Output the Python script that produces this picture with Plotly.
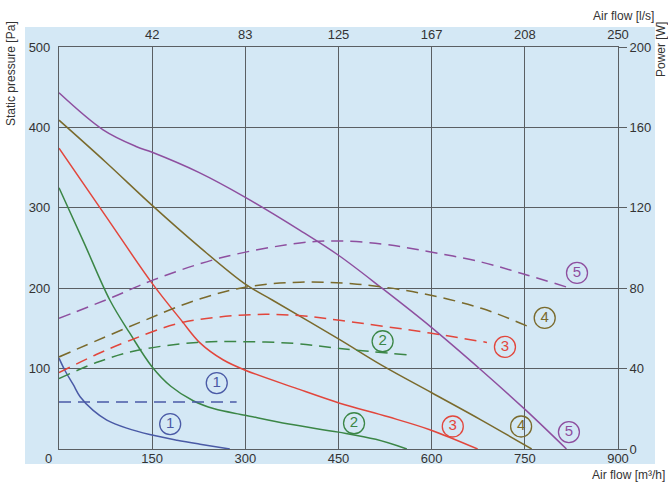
import plotly.graph_objects as go

# Air flow in m³/h, matching l/s tick labels on the top axis
flow_ticks = [0, 150, 300, 450, 600, 750, 900]
ls_labels = ["", "42", "83", "125", "167", "208", "250"]

# Static pressure curves [Pa] for speed steps 1..5
p1_x = [0, 10, 23, 34, 55, 77, 109, 146, 190, 227, 275]
p1_y = [113, 97, 80, 65, 48, 36, 26, 18, 11, 6, 0]
p2_x = [0, 40, 82, 114, 150, 180, 216, 250, 300, 370, 450, 510, 560]
p2_y = [325, 257, 185, 144, 102, 78, 60, 50, 42, 31, 21, 12, 0]
p3_x = [0, 75, 150, 197, 227, 264, 300, 380, 452, 530, 597, 674]
p3_y = [374, 290, 206, 160, 132, 111, 98, 76, 57, 40, 24, 0]
p4_x = [0, 75, 150, 225, 300, 344, 452, 520, 600, 680, 761]
p4_y = [409, 357, 303, 252, 205, 185, 136, 104, 70, 36, 0]
p5_x = [0, 71, 125, 150, 225, 300, 388, 450, 520, 600, 680, 752, 817]
p5_y = [443, 397, 376, 369, 344, 313, 272, 241, 200, 151, 98, 48, 0]

# Power consumption curves [W]
w1_x = [0, 286]
w1_y = [23.4, 23.4]
w2_x = [0, 60, 125, 222, 300, 380, 452, 562]
w2_y = [35, 43, 49, 53, 53.4, 52.5, 50, 46.8]
w3_x = [0, 60, 114, 195, 300, 380, 452, 597, 689]
w3_y = [38, 47, 54, 62.7, 66.7, 66.5, 64, 57.7, 53]
w4_x = [0, 130, 220, 302, 388, 480, 581, 680, 755]
w4_y = [45.8, 63, 74, 80.6, 83, 82, 77.6, 70, 61]
w5_x = [0, 87, 151, 259, 388, 450, 520, 581, 680, 753, 817]
w5_y = [65, 75.6, 84, 95, 102.5, 103.5, 102, 99, 93, 86.6, 80.6]

# Step markers (placed in pressure coordinates)
steps = ["1", "2", "3", "4", "5"]
lab_solid_x = [179, 475, 634, 744, 821]
lab_solid_y = [31, 32, 28, 28, 21]
lab_dash_x = [254, 521, 718, 782, 834]
lab_dash_y = [82, 134, 127, 163, 219]

colors = ["#4a5aa6", "#3b8646", "#e2463c", "#7a6a2c", "#8e4f9f"]
panel = "#d4e8f5"
grid = "#5a5f63"
font = "Liberation Sans, Arial, sans-serif"

fig = go.Figure()

pressure = [(p1_x, p1_y), (p2_x, p2_y), (p3_x, p3_y), (p4_x, p4_y), (p5_x, p5_y)]
power = [(w1_x, w1_y), (w2_x, w2_y), (w3_x, w3_y), (w4_x, w4_y), (w5_x, w5_y)]

for (xs, ys), c in zip(pressure, colors):
    fig.add_trace(go.Scatter(x=xs, y=ys, mode="lines", line=dict(color=c, width=1.5, shape="spline"),
                             showlegend=False, hoverinfo="skip"))

for (xs, ys), c in zip(power, colors):
    fig.add_trace(go.Scatter(x=xs, y=ys, yaxis="y2", mode="lines",
                             line=dict(color=c, width=1.5, shape="spline", dash="12px,7px"),
                             showlegend=False, hoverinfo="skip"))

for lx, ly in ((lab_solid_x, lab_solid_y), (lab_dash_x, lab_dash_y)):
    fig.add_trace(go.Scatter(
        x=lx, y=ly, mode="markers+text", text=steps, textposition="middle center",
        textfont=dict(family=font, size=15, color=colors),
        marker=dict(symbol="circle-open", size=21, color=colors, line=dict(width=1.3, color=colors)),
        showlegend=False, hoverinfo="skip"))

# invisible trace to anchor the top (l/s) axis
fig.add_trace(go.Scatter(x=[0, 900], y=[0, 0], xaxis="x2", mode="lines",
                         line=dict(width=0), showlegend=False, hoverinfo="skip"))

W, H = 668, 483
L, R, T, B = 59, 50, 47, 34
pw, ph = W - L - R, H - T - B


def px(x):
    return (x - L) / pw


def py(y):
    return (H - B - y) / ph


fig.add_shape(type="rect", xref="paper", yref="paper", x0=px(25), x1=px(655), y0=py(464), y1=py(27),
              fillcolor=panel, line=dict(width=0), layer="below")

tickfont = dict(family=font, size=13, color="#333333")

fig.update_layout(
    width=W, height=H, margin=dict(l=L, r=R, t=T, b=B),
    paper_bgcolor="white", plot_bgcolor=panel,
    font=dict(family=font, color="#333333"),
    xaxis=dict(range=[0, 900], tickvals=flow_ticks[1:], ticktext=[str(v) for v in flow_ticks[1:]],
               showgrid=True, gridcolor=grid, gridwidth=1.1, zeroline=False,
               showline=True, linecolor=grid, linewidth=1.1, mirror=True, ticks="",
               ticklabelstandoff=-3, tickfont=tickfont),
    xaxis2=dict(range=[0, 900], overlaying="x", side="top", anchor="y", tickvals=flow_ticks, ticktext=ls_labels,
                showgrid=False, zeroline=False, showline=False, ticks="", ticklabelstandoff=4,
                tickfont=tickfont),
    yaxis=dict(range=[0, 500], tickvals=[100, 200, 300, 400, 500], showgrid=True, gridcolor=grid, gridwidth=1.1,
               zeroline=False, showline=True, linecolor=grid, linewidth=1.1, mirror=True, ticks="",
               ticklabelstandoff=5, tickfont=tickfont),
    yaxis2=dict(range=[0, 200], overlaying="y", side="right", tickvals=[0, 40, 80, 120, 160, 200],
                showgrid=False, zeroline=False, showline=False, ticks="outside", ticklen=8,
                tickcolor=grid, tickwidth=1.1, tickfont=tickfont),
)

ann = dict(xref="paper", yref="paper", showarrow=False, yanchor="middle",
           font=dict(family=font, size=12, color="#333333"))
fig.add_annotation(text="Static pressure [Pa]", x=px(11), y=py(74), textangle=-90, xanchor="center", **ann)
fig.add_annotation(text="Power [W]", x=px(661), y=py(50), textangle=-90, xanchor="center", **ann)
fig.add_annotation(text="Air flow [l/s]", x=px(656), y=py(16), xanchor="right", **ann)
fig.add_annotation(text="Air flow [m³/h]", x=px(667), y=py(475), xanchor="right", **ann)
fig.add_annotation(text="0", x=px(48), y=py(458), xref="paper", yref="paper", showarrow=False,
                   xanchor="center", yanchor="middle", font=tickfont)

fig.write_html("out.html")
